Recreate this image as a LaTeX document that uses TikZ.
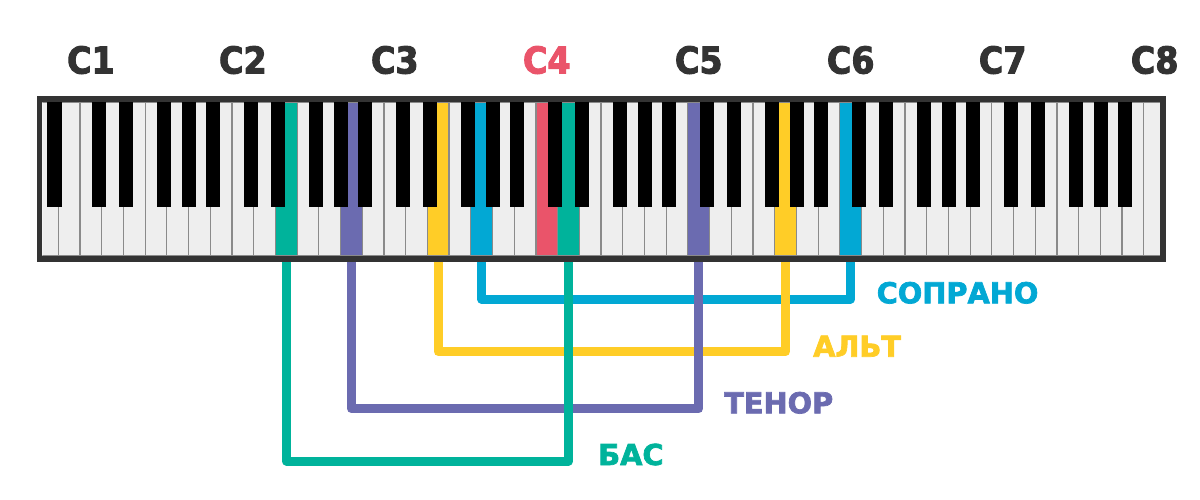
\documentclass[tikz,border=0pt]{standalone}
\usepackage{fontspec}
\newfontfamily\vfont{DejaVu Sans}[BoldFeatures={FakeBold=2.4}]
\newfontfamily\cfont{DejaVu Sans}[FakeStretch=0.9, BoldFeatures={FakeBold=2.6}]
\definecolor{keywhite}{HTML}{EEEEEE}
\definecolor{keyline}{HTML}{8A8A8A}
\definecolor{framec}{HTML}{333333}
\definecolor{textdark}{HTML}{333333}
\definecolor{bassc}{HTML}{00B39B}
\definecolor{tenc}{HTML}{6B6BB0}
\definecolor{altc}{HTML}{FFCD27}
\definecolor{sopc}{HTML}{02A8D4}
\definecolor{redc}{HTML}{EA546A}
\begin{document}
\begin{tikzpicture}[x=1pt,y=-1pt,
  wkey/.style={fill=keywhite, draw=keyline, line width=1.2pt},
  hkey/.style={rectangle, draw=keyline, line width=1.2pt, minimum width=21.71pt, minimum height=154pt, inner sep=0pt, outer sep=0pt},
  bkey/.style={fill=black},
  voice/.style={line width=9pt, line join=round},
  vlabel/.style={font=\vfont\bfseries\fontsize{28.8}{30}\selectfont, anchor=base west, inner sep=0pt},
  clabel/.style={font=\cfont\bfseries\fontsize{37}{38}\selectfont, anchor=base, inner sep=0pt, text=textdark}]
\useasboundingbox (0,0) rectangle (1200,500);
% keys
\begin{scope}
\clip (42.3,102) rectangle (1160.5,256);
\foreach \m in {-2,...,49}{
  \pgfmathsetmacro\xa{80+21.71*\m}
  \draw[wkey] (\xa,102) rectangle ++(21.71,154);
}
\node[hkey, fill=bassc] (kE2) at (286.3,179) {};
\node[hkey, fill=tenc]  (kA2) at (351.4,179) {};
\node[hkey, fill=altc]  (kE3) at (438.2,179) {};
\node[hkey, fill=sopc]  (kG3) at (481.6,179) {};
\node[hkey, fill=redc]  (kC4) at (546.8,179) {};
\node[hkey, fill=bassc] (kD4) at (568.5,179) {};
\node[hkey, fill=tenc]  (kC5) at (698.7,179) {};
\node[hkey, fill=altc]  (kG5) at (785.6,179) {};
\node[hkey, fill=sopc]  (kC6) at (850.7,179) {};
\foreach \k in {0,...,6}{
  \foreach \o/\d in {0/11.7,1/17.6,3/11.7,4/15,5/17.7}{
    \pgfmathsetmacro\xb{80+21.71*(7*\k+\o)+\d}
    \fill[bkey] (\xb,102) rectangle ++(14,104.5);
  }
}
\fill[bkey] (47.3,102) rectangle ++(15,104.5);
\end{scope}
% connectors
\draw[voice, sopc]  (kG3.south) -- ++(0,43)    -| (kC6.south);
\draw[voice, altc]  (kE3.south) -- ++(0,95.7)  -| (kG5.south);
\draw[voice, tenc]  (kA2.south) -- ++(0,152.8) -| (kC5.south);
\draw[voice, bassc] (kE2.south) -- ++(0,205)   -| (kD4.south);
% frame
\draw[line width=5.7pt, draw=framec] (39.5,99) rectangle (1163.3,259);
% labels
\node[vlabel, text=sopc]  (lsop) at (876.5,303.3) {СОПРАНО};
\node[vlabel, text=altc]  (lalt) at (813,356.7) {АЛЬТ};
\node[vlabel, text=tenc]  (lten) at (724,413.3) {ТЕНОР};
\node[vlabel, text=bassc] (lbas) at (598,465) {БАС};
\foreach \n in {1,2,3,5,6,7,8}{
  \node[clabel] (c\n) at ({90.9+151.97*(\n-1)},73.5) {C\n};
}
\node[clabel, text=redc] (c4) at (546.8,73.5) {C4};
\end{tikzpicture}
\end{document}
